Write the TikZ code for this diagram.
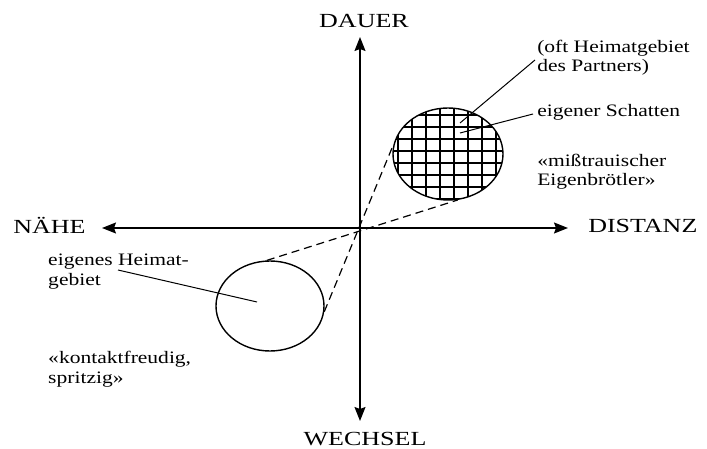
\documentclass[tikz,border=0pt]{standalone}
\usepackage{fontspec}
\setmainfont{Liberation Serif}
\usetikzlibrary{arrows.meta,shapes.geometric}

\begin{document}
\begin{tikzpicture}[
  x=1pt, y=-1pt,
  axislabel/.style={font=\fontsize{20}{24}\selectfont, inner sep=0pt, xscale=1.3},
  note/.style={font=\fontsize{17.5}{19.5}\selectfont, inner sep=0pt, xscale=1.23, align=left, anchor=base west},
  axis/.style={line width=1.3pt, -{Stealth[length=14pt,width=11pt,inset=2pt]}},
  region/.style={draw, line width=1.4pt, ellipse, inner sep=0pt},
  hatch/.style={line width=1.1pt},
  lead/.style={line width=1pt},
  tangent/.style={line width=1.2pt, dash pattern=on 8pt off 5pt}
  ]

   \useasboundingbox (0,0) rectangle (707,449);

   \coordinate (o) at (360,228);
   \coordinate (top) at (360,37);
   \coordinate (bottom) at (360,421);
   \coordinate (left) at (102,228);
   \coordinate (right) at (568,228);

   \node (dauer) [axislabel, anchor=base] at (364,28) {DAUER};
   \node (wechsel) [axislabel, anchor=base] at (365,445) {WECHSEL};
   \node (naehe) [axislabel, anchor=base west] at (13,234) {NÄHE};
   \node (distanz) [axislabel, anchor=base west] at (588,233) {DISTANZ};

   \draw [axis] (o) -- (top);
   \draw [axis] (o) -- (bottom);
   \draw [axis] (o) -- (left);
   \draw [axis] (o) -- (right);

   \begin{scope}
     \clip (448,154) ellipse [x radius=55pt, y radius=46pt];
     \foreach \gx in {398,412,...,496} \draw [hatch] (\gx,100) -- (\gx,210);
     \foreach \gy in {115,127,...,199} \draw [hatch] (390,\gy) -- (510,\gy);
   \end{scope}

   \node (own) [region, minimum width=108pt, minimum height=90pt] at (270,306) {};
   \node (shadow) [region, minimum width=110pt, minimum height=92pt] at (448,154) {};

   \draw [tangent] (own.94) -- (shadow.-78);
   \draw [tangent] (own.-6) -- (shadow.170);

   % base of a two-line note is its last line
   \node (partner) [note] at (537,72) {(oft Heimatgebiet\\des Partners)};
   \node (schatten) [note] at (537,117) {eigener Schatten};
   \node (misstrau) [note] at (537,186) {«mißtrauischer\\Eigenbrötler»};
   \node (heimat) [note] at (48,285) {eigenes Heimat-\\gebiet};
   \node (kontakt) [note] at (48,383) {«kontaktfreudig,\\spritzig»};

   \coordinate (partnerlead) at (535,60);
   \coordinate (schattenlead) at (533,114);
   \coordinate (heimatlead) at (118,270);
   \draw [lead] (partnerlead) -- ([shift={(12,-31)}]shadow.center);
   \draw [lead] (schattenlead) -- ([shift={(12,-21)}]shadow.center);
   \draw [lead] (heimatlead) -- ([shift={(-13,-4)}]own.center);

\end{tikzpicture}
\end{document}
